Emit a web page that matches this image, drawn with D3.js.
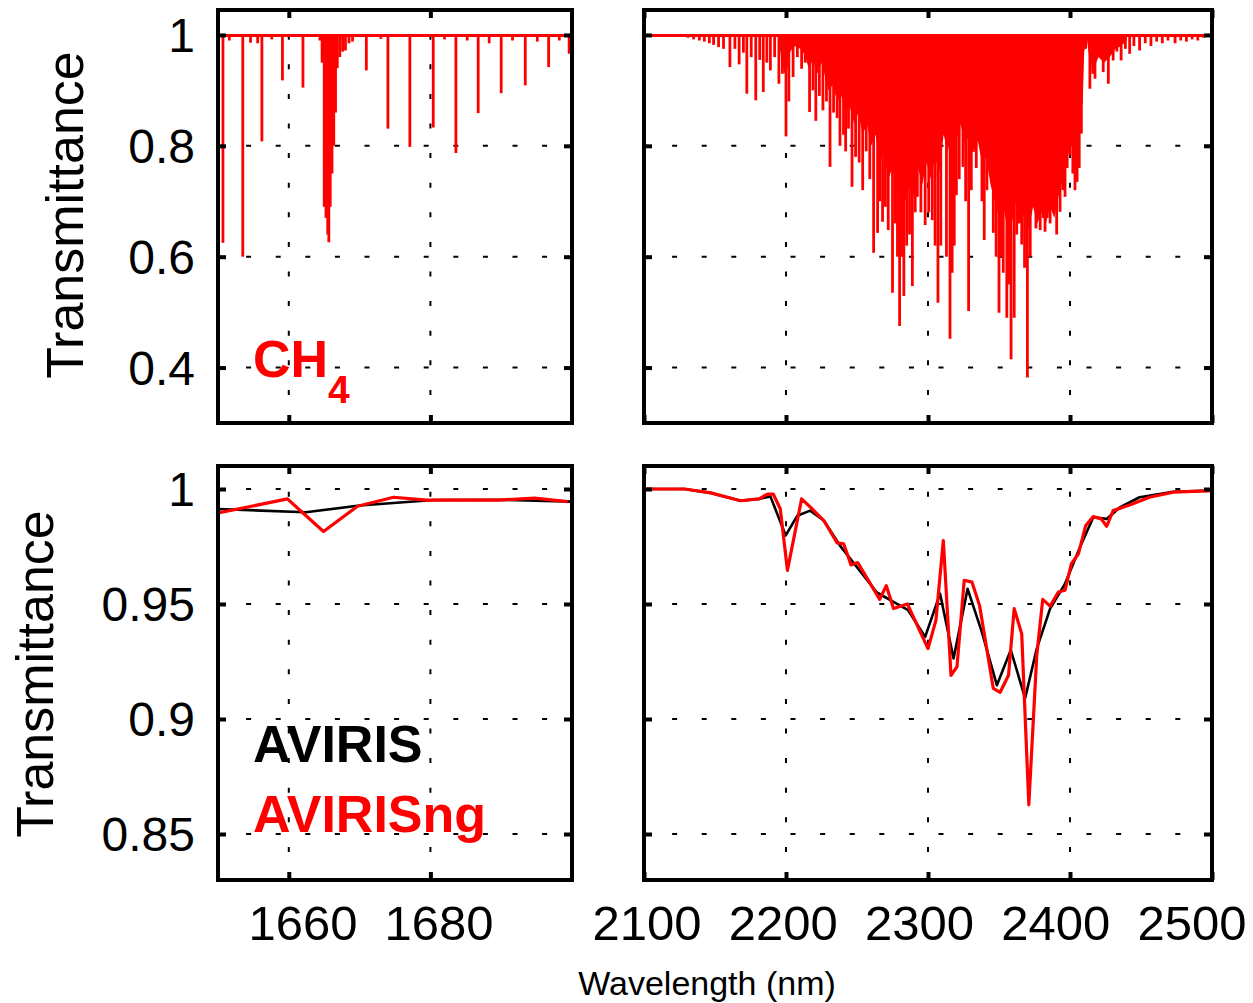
<!DOCTYPE html>
<html>
<head>
<meta charset="utf-8">
<script src="https://cdn.jsdelivr.net/npm/d3@7"></script>
<style>
  body { margin: 0; background: #fff; }
  svg text { font-family: "Liberation Sans", Arial, Helvetica, sans-serif; }
</style>
</head>
<body>
<div id="chart"></div>
<script>
// CH4 transmittance — high resolution (top) vs. AVIRIS / AVIRIS-NG sampling (bottom)

// ===== Data =====
// top-left: individual CH4 lines, 1650–1700 nm (centre, minimum transmittance)
const ch4ShortWave = [1650.7, 1651.6, 1653.5, 1654.6, 1655.6, 1656.2, 1657.6, 1659.1, 1662.0,
  1664.4, 1664.7, 1665.0, 1665.25, 1665.5, 1665.65, 1665.85, 1666.1, 1666.35, 1666.6, 1666.85,
  1667.2, 1667.6, 1668.0, 1668.5, 1669.0, 1670.95, 1673.0, 1674.0, 1677.1, 1680.4, 1682.0,
  1683.6, 1685.2, 1686.75, 1688.3, 1690.0, 1691.6, 1693.4, 1695.1, 1696.7, 1698.2, 1699.6];
const ch4ShortTrans = [0.625, 0.99, 0.600, 0.986, 0.985, 0.808, 0.992, 0.918, 0.905,
  0.99, 0.95, 0.69, 0.67, 0.64, 0.626, 0.69, 0.75, 0.80, 0.86, 0.94,
  0.96, 0.97, 0.972, 0.985, 0.988, 0.936, 0.993, 0.831, 0.798, 0.833, 0.992,
  0.787, 0.99, 0.859, 0.985, 0.895, 0.99, 0.909, 0.988, 0.942, 0.99, 0.966];
const ch4ShortContWave = [1650, 1700];
const ch4ShortContTrans = [0.999, 0.999];

// top-right: individual CH4 lines, 2100–2500 nm
const ch4LongWave = [2131, 2135, 2139, 2142.5, 2146, 2149, 2152.5, 2156, 2160.5, 2164, 2167, 2170,
  2172.4, 2175.5, 2178.7, 2181.5, 2184, 2186.5, 2189, 2192, 2195, 2197.5, 2200, 2202, 2205, 2208,
  2211, 2213.5, 2216.6, 2219, 2221, 2223.5, 2226, 2228.5, 2231, 2233.5, 2236, 2238, 2240.5, 2242,
  2244, 2246.5, 2249, 2251.5, 2254, 2256.5, 2259, 2261.7, 2264.5, 2266, 2268, 2270, 2272, 2275,
  2277, 2278.5, 2280, 2281.5, 2283, 2285, 2287, 2289, 2291, 2292.5, 2295, 2298, 2300.5, 2303,
  2305, 2307, 2309, 2313, 2315.5, 2317, 2318.5, 2320, 2322, 2324.6, 2326.5, 2328.6, 2330.5, 2332,
  2334, 2336, 2338, 2339.6, 2341.5, 2343.8, 2346, 2348, 2350, 2351.5, 2353, 2355.5, 2357, 2358.5,
  2360.7, 2362.5, 2364, 2366, 2368, 2370, 2372, 2373.8, 2376, 2377.5, 2379, 2381, 2382.4, 2384,
  2386, 2388, 2390.6, 2393, 2395, 2396.5, 2398, 2400, 2402, 2403.5, 2405, 2406.5, 2408, 2411,
  2414, 2416, 2417.6, 2420, 2423.4, 2425, 2427, 2430.4, 2433, 2436, 2439, 2442, 2445, 2449, 2453,
  2457, 2461, 2465, 2469, 2474, 2478, 2482, 2486, 2490, 2494];
const ch4LongTrans = [0.995, 0.992, 0.99, 0.988, 0.985, 0.982, 0.978, 0.975, 0.942, 0.975, 0.947, 0.968,
  0.894, 0.96, 0.882, 0.955, 0.897, 0.95, 0.936, 0.96, 0.912, 0.93, 0.817, 0.88, 0.924, 0.96,
  0.939, 0.95, 0.861, 0.9, 0.845, 0.89, 0.864, 0.88, 0.762, 0.86, 0.85, 0.80, 0.82, 0.79,
  0.831, 0.726, 0.78, 0.77, 0.72, 0.79, 0.74, 0.607, 0.643, 0.70, 0.663, 0.69, 0.648, 0.535,
  0.66, 0.60, 0.475, 0.60, 0.529, 0.62, 0.64, 0.547, 0.68, 0.708, 0.68, 0.657, 0.68, 0.666,
  0.62, 0.517, 0.62, 0.60, 0.452, 0.571, 0.62, 0.711, 0.74, 0.762, 0.70, 0.502, 0.72, 0.789,
  0.76, 0.831, 0.70, 0.630, 0.72, 0.750, 0.643, 0.60, 0.499, 0.60, 0.571, 0.490, 0.55, 0.415,
  0.49, 0.64, 0.66, 0.622, 0.58, 0.382, 0.60, 0.702, 0.651, 0.68, 0.648, 0.67, 0.645, 0.67,
  0.660, 0.70, 0.640, 0.681, 0.72, 0.708, 0.76, 0.783, 0.75, 0.72, 0.735, 0.76, 0.822, 0.975,
  0.903, 0.93, 0.921, 0.96, 0.933, 0.96, 0.912, 0.954, 0.97, 0.954, 0.975, 0.966, 0.98, 0.972, 0.985,
  0.98, 0.988, 0.985, 0.99, 0.985, 0.99, 0.988, 0.992, 0.99, 0.995];
// lower edge of the saturated (solid) part of the 2.3 µm band
const ch4BandWave = [2195, 2197, 2199, 2201, 2203, 2206, 2210, 2213, 2216, 2219, 2222, 2225, 2228,
  2230, 2233, 2236, 2239, 2242, 2245, 2248, 2251, 2254, 2257, 2260, 2263, 2266, 2269, 2272, 2275,
  2278, 2281, 2284, 2287, 2290, 2293, 2296, 2299, 2302, 2305, 2308, 2311, 2314, 2317, 2320, 2323,
  2326, 2329, 2332, 2335, 2338, 2341, 2344, 2347, 2350, 2353, 2356, 2359, 2362, 2365, 2368, 2371,
  2374, 2377, 2380, 2383, 2386, 2389, 2392, 2395, 2398, 2401, 2404, 2407, 2409, 2410, 2412, 2414,
  2417, 2420, 2424, 2428, 2432, 2436, 2440];
const ch4BandTrans = [0.99, 0.95, 0.93, 0.94, 0.97, 0.98, 0.975, 0.965, 0.94, 0.955, 0.93, 0.95, 0.92,
  0.90, 0.91, 0.88, 0.89, 0.86, 0.87, 0.84, 0.86, 0.82, 0.84, 0.80, 0.82, 0.77, 0.79, 0.74, 0.76,
  0.71, 0.74, 0.70, 0.73, 0.71, 0.76, 0.73, 0.77, 0.74, 0.78, 0.75, 0.82, 0.79, 0.83, 0.81, 0.84,
  0.80, 0.82, 0.79, 0.81, 0.77, 0.78, 0.73, 0.70, 0.67, 0.69, 0.65, 0.66, 0.70, 0.66, 0.68, 0.65,
  0.69, 0.66, 0.68, 0.66, 0.69, 0.67, 0.71, 0.74, 0.78, 0.80, 0.78, 0.84, 0.88, 0.97, 0.99, 0.95,
  0.94, 0.96, 0.95, 0.96, 0.975, 0.98, 0.99];
const ch4LongContWave = [2100, 2500];
const ch4LongContTrans = [0.999, 0.999];

// bottom-left: convolved to instrument bands, 1650–1700 nm
const avirisShortWave = [1650, 1662.4, 1670, 1680.5, 1690.5, 1700];
const avirisShortTrans = [0.9913, 0.9899, 0.9928, 0.9952, 0.9953, 0.9945];
const avirisNgShortWave = [1650, 1654.9, 1659.8, 1664.9, 1669.7, 1674.8, 1679.5, 1684.7, 1689.6, 1694.7, 1699.4];
const avirisNgShortTrans = [0.9896, 0.9926, 0.9957, 0.9815, 0.9925, 0.9964, 0.9952, 0.9952, 0.9952, 0.996, 0.9945];

// bottom-right: convolved, 2100–2500 nm
const avirisLongWave = [2100, 2128.5, 2147, 2168, 2181, 2189, 2199.8, 2208, 2217, 2226.6, 2238, 2250,
  2264, 2275.7, 2286, 2298, 2308.5, 2318, 2327.9, 2337.9, 2348.5, 2358.3, 2368.4, 2376.6, 2386,
  2396.5, 2407, 2416.4, 2425.8, 2435, 2449, 2472.6, 2500];
const avirisLongTrans = [1.0, 1.0, 0.9983, 0.9949, 0.9957, 0.9968, 0.9798, 0.9884, 0.9906, 0.9863, 0.9754, 0.966,
  0.955, 0.9509, 0.9473, 0.9357, 0.9545, 0.9263, 0.9566, 0.9379, 0.9147, 0.93, 0.909, 0.9306, 0.948,
  0.9588, 0.9747, 0.9877, 0.987, 0.992, 0.9964, 0.9988, 0.9993];
const avirisNgLongWave = [2100, 2128.5, 2147, 2168, 2181, 2187, 2191, 2196, 2201, 2211, 2218.5, 2226.6,
  2236, 2240.6, 2245.8, 2250.5, 2266, 2270.6, 2275.7, 2285.5, 2300, 2305.6, 2310.8, 2316.2, 2320.4,
  2325.5, 2331, 2336.3, 2346, 2350.8, 2356.7, 2360.7, 2366, 2371, 2376.6, 2380.8, 2386, 2391.8,
  2396.5, 2401, 2405.9, 2411, 2416.4, 2422, 2425.8, 2430.4, 2442, 2456, 2472.6, 2486.7, 2500];
const avirisNgLongTrans = [1.0, 1.0, 0.9983, 0.9949, 0.9957, 0.9978, 0.9978, 0.9913, 0.9646, 0.9957, 0.9913, 0.9863,
  0.9766, 0.9762, 0.967, 0.968, 0.952, 0.958, 0.948, 0.950, 0.9306, 0.943, 0.9776, 0.919, 0.9227,
  0.9603, 0.9595, 0.9494, 0.9133, 0.9116, 0.919, 0.948, 0.937, 0.8627, 0.9277, 0.952, 0.9491, 0.9552,
  0.956, 0.9675, 0.9718, 0.984, 0.988, 0.987, 0.9838, 0.9906, 0.993, 0.9964, 0.9986, 0.999, 0.9993];

// ticks
const xTicksShort = [1660, 1680];
const xTicksLong = [2100, 2200, 2300, 2400, 2500];
const yTicksTop = [0.4, 0.6, 0.8, 1];
const yTicksBottom = [0.85, 0.9, 0.95, 1];
const yLabelsTop = ["0.4", "0.6", "0.8", "1"];
const yLabelsBottom = ["0.85", "0.9", "0.95", "1"];

const RED = "#ff0000";
const zip = (xs, ys) => xs.map((v, i) => [v, ys[i]]);

// ===== Layout =====
const svg = d3.select("#chart").append("svg")
  .attr("width", 1253)
  .attr("height", 1003);
const defs = svg.append("defs");

const colShort = [218, 572], colLong = [644, 1212];
const rowTop = [423, 10], rowBottom = [880, 466];

function makePanel(id, xDomain, xRange, yDomain, yRange, xTicks, yTicks) {
  const x = d3.scaleLinear().domain(xDomain).range(xRange);
  const y = d3.scaleLinear().domain(yDomain).range(yRange);
  const g = svg.append("g");

  defs.append("clipPath").attr("id", id).append("rect")
    .attr("x", xRange[0]).attr("y", yRange[1])
    .attr("width", xRange[1] - xRange[0])
    .attr("height", yRange[0] - yRange[1]);

  // dotted grid (matlab ':' style)
  const grid = g.append("g")
    .attr("stroke", "#000")
    .attr("stroke-width", 2)
    .attr("stroke-dasharray", "5,24.6")
    .attr("stroke-dashoffset", 1.5);
  grid.selectAll("line.gx")
    .data(xTicks.filter(d => d > xDomain[0] && d < xDomain[1]))
    .enter().append("line").attr("class", "gx")
      .attr("x1", d => x(d)).attr("x2", d => x(d))
      .attr("y1", yRange[0]).attr("y2", yRange[1]);
  grid.selectAll("line.gy")
    .data(yTicks)
    .enter().append("line").attr("class", "gy")
      .attr("x1", xRange[0]).attr("x2", xRange[1])
      .attr("y1", d => y(d)).attr("y2", d => y(d));

  const plot = g.append("g").attr("clip-path", `url(#${id})`);

  function frame() {
    const tk = 8;
    const axes = [
      [d3.axisBottom(x).tickValues(xTicks), `translate(0,${yRange[0]})`],
      [d3.axisTop(x).tickValues(xTicks), `translate(0,${yRange[1]})`],
      [d3.axisLeft(y).tickValues(yTicks), `translate(${xRange[0]},0)`],
      [d3.axisRight(y).tickValues(yTicks), `translate(${xRange[1]},0)`]
    ];
    axes.forEach(([ax, tr]) => {
      const a = g.append("g").attr("transform", tr)
        .call(ax.tickSize(-tk).tickFormat(""));
      a.select(".domain").remove();
      a.selectAll("line").attr("stroke", "#000").attr("stroke-width", 4);
    });
    g.append("rect")
      .attr("x", xRange[0]).attr("y", yRange[1])
      .attr("width", xRange[1] - xRange[0])
      .attr("height", yRange[0] - yRange[1])
      .attr("fill", "none")
      .attr("stroke", "#000")
      .attr("stroke-width", 4);
  }
  return { x, y, plot, frame };
}

const line = (p) => d3.line().x(d => p.x(d[0])).y(d => p.y(d[1]));

function drawSpectrum(p, wave, trans, contWave, contTrans, bandWave, bandTrans) {
  if (bandWave) {
    p.plot.append("path")
      .datum(zip(bandWave, bandTrans))
      .attr("fill", RED)
      .attr("d", d3.area().x(d => p.x(d[0])).y0(p.y(0.999)).y1(d => p.y(d[1])));
  }
  p.plot.selectAll("line.spike")
    .data(zip(wave, trans))
    .enter().append("line").attr("class", "spike")
      .attr("x1", d => p.x(d[0])).attr("x2", d => p.x(d[0]))
      .attr("y1", p.y(0.999)).attr("y2", d => p.y(d[1]))
      .attr("stroke", RED)
      .attr("stroke-width", 2.8);
  p.plot.append("path")
    .datum(zip(contWave, contTrans))
    .attr("fill", "none")
    .attr("stroke", RED)
    .attr("stroke-width", 3)
    .attr("d", line(p));
}

function drawConvolved(p, wA, tA, wN, tN) {
  p.plot.append("path")
    .datum(zip(wA, tA))
    .attr("fill", "none").attr("stroke", "#000")
    .attr("stroke-width", 2.6).attr("stroke-linejoin", "round")
    .attr("d", line(p));
  p.plot.append("path")
    .datum(zip(wN, tN))
    .attr("fill", "none").attr("stroke", RED)
    .attr("stroke-width", 3.2).attr("stroke-linejoin", "round")
    .attr("d", line(p));
}

// ===== Panels =====
const pTL = makePanel("clipTL", [1650, 1700], colShort, [0.3, 1.045], rowTop, xTicksShort, yTicksTop);
drawSpectrum(pTL, ch4ShortWave, ch4ShortTrans, ch4ShortContWave, ch4ShortContTrans);
pTL.frame();

const pTR = makePanel("clipTR", [2100, 2500], colLong, [0.3, 1.045], rowTop, xTicksLong, yTicksTop);
drawSpectrum(pTR, ch4LongWave, ch4LongTrans, ch4LongContWave, ch4LongContTrans, ch4BandWave, ch4BandTrans);
pTR.frame();

const pBL = makePanel("clipBL", [1650, 1700], colShort, [0.83, 1.01], rowBottom, xTicksShort, yTicksBottom);
drawConvolved(pBL, avirisShortWave, avirisShortTrans, avirisNgShortWave, avirisNgShortTrans);
pBL.frame();

const pBR = makePanel("clipBR", [2100, 2500], colLong, [0.83, 1.01], rowBottom, xTicksLong, yTicksBottom);
drawConvolved(pBR, avirisLongWave, avirisLongTrans, avirisNgLongWave, avirisNgLongTrans);
pBR.frame();

// ===== Tick labels =====
function yLabels(p, ticks, labels) {
  svg.append("g").selectAll("text")
    .data(ticks)
    .enter().append("text")
      .attr("x", 195)
      .attr("y", d => p.y(d))
      .attr("dy", "0.36em")
      .attr("text-anchor", "end")
      .style("font-size", "48px")
      .text((d, i) => labels[i]);
}
yLabels(pTL, yTicksTop, yLabelsTop);
yLabels(pBL, yTicksBottom, yLabelsBottom);

// labels in the original sit on a slightly tighter spacing than the ticks
const xLabShort = d3.scaleLinear().domain([1660, 1680]).range([303, 439]);
const xLabLong = d3.scaleLinear().domain([2100, 2500]).range([647, 1192]);
[[xTicksShort, xLabShort], [xTicksLong, xLabLong]].forEach(([ticks, sc]) => {
  svg.append("g").selectAll("text")
    .data(ticks)
    .enter().append("text")
      .attr("x", d => sc(d))
      .attr("y", 940)
      .attr("text-anchor", "middle")
      .style("font-size", "49px")
      .text(d => d);
});

// ===== Axis titles & annotations =====
[[83, 215], [53, 674]].forEach(([tx, ty]) => {
  svg.append("text")
    .attr("transform", `translate(${tx},${ty}) rotate(-90)`)
    .attr("text-anchor", "middle")
    .style("font-size", "52px")
    .text("Transmittance");
});

svg.append("text")
  .attr("x", 707).attr("y", 995)
  .attr("text-anchor", "middle")
  .style("font-size", "34px")
  .text("Wavelength (nm)");

const ch4 = svg.append("text")
  .attr("x", 253).attr("y", 377)
  .attr("fill", RED)
  .style("font-size", "52px")
  .style("font-weight", "bold")
  .text("CH");
ch4.append("tspan")
  .attr("dy", 26)
  .style("font-size", "39px")
  .text("4");

svg.append("text")
  .attr("x", 253).attr("y", 762)
  .style("font-size", "52px").style("font-weight", "bold")
  .text("AVIRIS");
svg.append("text")
  .attr("x", 253).attr("y", 832)
  .attr("fill", RED)
  .style("font-size", "52px").style("font-weight", "bold")
  .text("AVIRISng");
</script>
</body>
</html>
